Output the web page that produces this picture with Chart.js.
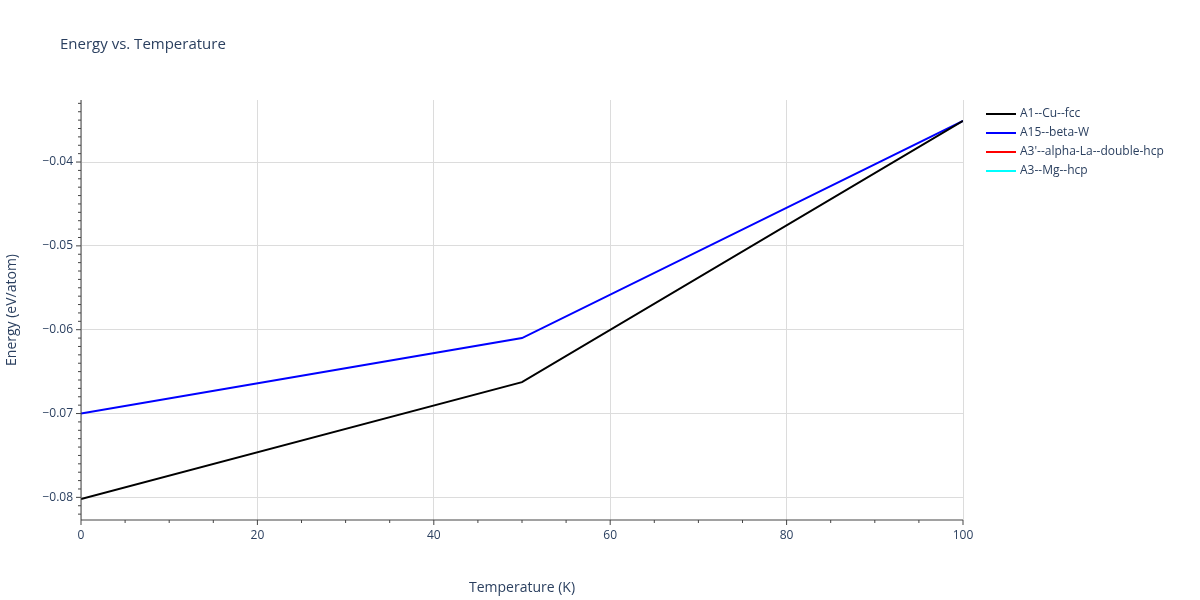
<!DOCTYPE html>
<html><head><script src="https://cdn.jsdelivr.net/npm/chart.js@4"></script>
<style>body{margin:0;background:#fff}#w{width:1200px;height:600px}</style></head>
<body><div id="w"><canvas id="c"></canvas></div>
<script>
const temps = [0, 50, 100];
const seriesNames = ["A1--Cu--fcc", "A15--beta-W", "A3'--alpha-La--double-hcp", "A3--Mg--hcp"];
const seriesColors = ["#000000", "#0000ff", "#ff0000", "#00ffff"];
const a1Values = [-0.0802, -0.06625, -0.0351];
const a15Values = [-0.0700, -0.0610, -0.0351];
const a3pValues = [];
const a3Values = [];
const allValues = [a1Values, a15Values, a3pValues, a3Values];
const xTicks = [0, 20, 40, 60, 80, 100];
const yTicks = [-0.08, -0.07, -0.06, -0.05, -0.04];
const font = "'Open Sans', sans-serif";
const txt = "#2a3f5f";

const datasets = seriesNames.map((n, i) => ({
  label: n, borderColor: seriesColors[i], backgroundColor: seriesColors[i],
  borderWidth: 2, pointRadius: 0, tension: 0,
  data: allValues[i].map((v, j) => ({x: temps[j], y: v}))
}));

const deco = {
  id: 'deco',
  afterDraw(chart) {
    const ctx = chart.ctx;
    ctx.save();
    ctx.fillStyle = txt;
    ctx.font = "15px " + font;
    ctx.textBaseline = "middle";
    ctx.fillText("Energy vs. Temperature", 60, 45);
    ctx.font = "12px " + font;
    seriesNames.forEach((n, i) => {
      const y = 114 + i * 19;
      ctx.strokeStyle = seriesColors[i]; ctx.lineWidth = 2;
      ctx.beginPath(); ctx.moveTo(986, y); ctx.lineTo(1016, y); ctx.stroke();
      ctx.fillStyle = txt; ctx.fillText(n, 1020, y);
    });
    // minor ticks
    const a = chart.chartArea, xs = chart.scales.x, ys = chart.scales.y;
    ctx.strokeStyle = "#444"; ctx.lineWidth = 1;
    for (let v = 0; v <= 100; v += 5) {
      const px = xs.getPixelForValue(v), len = v % 20 === 0 ? 5 : 3;
      ctx.beginPath(); ctx.moveTo(px, a.bottom); ctx.lineTo(px, a.bottom + len); ctx.stroke();
    }
    for (let k = -82; k <= -33; k++) {
      const v = k / 1000, px = ys.getPixelForValue(v), len = k % 10 === 0 ? 5 : 3;
      ctx.beginPath(); ctx.moveTo(a.left, px); ctx.lineTo(a.left - len, px); ctx.stroke();
    }
    ctx.beginPath(); ctx.moveTo(a.left, a.top); ctx.lineTo(a.left, a.bottom); ctx.lineTo(a.right, a.bottom); ctx.stroke();
    ctx.restore();
  }
};

new Chart(document.getElementById('c'), {
  type: 'line',
  data: { datasets },
  options: {
    responsive: true, maintainAspectRatio: false, animation: false,
    layout: { padding: { top: 100, right: 237, left: 0, bottom: 0 } },
    plugins: { legend: { display: false }, title: { display: false }, tooltip: { enabled: false } },
    scales: {
      x: {
        type: 'linear', min: 0, max: 100,
        afterBuildTicks: s => { s.ticks = xTicks.map(v => ({value: v})); },
        afterFit: s => { s.height = 80; },
        grid: { color: "#dcdcdc", drawTicks: false },
        border: { display: false },
        ticks: { color: txt, font: { family: font, size: 12 }, padding: 8 },
        title: { display: true, text: "Temperature (K)", color: txt, font: { family: font, size: 14 }, padding: { top: 14 } }
      },
      y: {
        type: 'linear', min: -0.0827, max: -0.0326,
        afterBuildTicks: s => { s.ticks = yTicks.map(v => ({value: v})); },
        afterFit: s => { s.width = 81; },
        grid: { color: "#dcdcdc", drawTicks: false },
        border: { display: false },
        ticks: { color: txt, font: { family: font, size: 12 }, padding: 8,
          callback: v => "\u2212" + Math.abs(v).toFixed(2).replace(/^0/, "0") },
        title: { display: true, text: "Energy (eV/atom)", color: txt, font: { family: font, size: 14 }, padding: { bottom: 2 } }
      }
    }
  },
  plugins: [deco]
});
</script></body></html>
